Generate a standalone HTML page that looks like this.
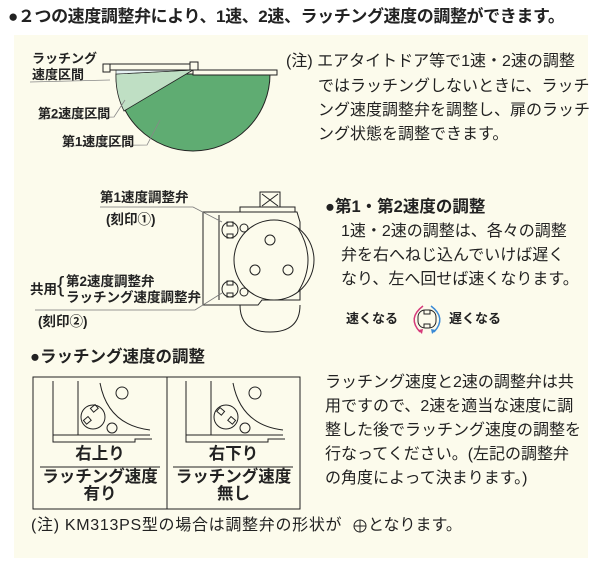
<!DOCTYPE html>
<html><head><meta charset="utf-8"><style>
body{margin:0;width:600px;height:569px;background:#fff;position:relative;overflow:hidden;font-family:"Liberation Sans","Noto Sans CJK JP",sans-serif;color:#222}
.t{position:absolute;white-space:nowrap;line-height:1}
.n{font-size:16px}
</style></head><body>
<div style="position:absolute;left:14px;top:35px;width:574px;height:523px;background:#fcfbec"></div>
<div class="t" style="left:8px;top:8px;font-size:17px;font-weight:bold;letter-spacing:-0.4px">●２つの速度調整弁により、1速、2速、ラッチング速度の調整ができます。</div>

<svg style="position:absolute;left:0;top:0" width="600" height="569" viewBox="0 0 600 569" fill="none" stroke="#222" stroke-width="1">
 <path d="M116 74 A77 77 0 0 0 270 74 Z" fill="#5fac72"/>
 <path d="M116 74 L193 70 L124 111 A77 77 0 0 1 116 74Z" fill="#bfdfc4" stroke-width="0.8"/>
 <path d="M116 74 L193 70 L116 70Z" fill="#e6f2f3" stroke-width="0.6"/>
 <rect x="110" y="64" width="88" height="6" fill="#fcfbec"/>
 <rect x="103" y="64" width="7" height="8" fill="#fcfbec"/>
 <rect x="190" y="62" width="8" height="8" fill="#fcfbec"/>
 <rect x="193" y="70" width="84" height="5" fill="#fcfbec"/>
 <path d="M110 80 L30 82 M125 100 L114 117 L38 119 M160 120 L147 145 L62 146" stroke="#888" stroke-width="0.8"/>
 <g stroke-width="1">
 <rect x="260" y="192" width="20" height="15" fill="#fcfbec"/>
 <path d="M262 194 L278 206 M278 194 L262 206"/>
 <rect x="240" y="207" width="55" height="6" fill="#fcfbec"/>
 <path d="M240 305 Q240 332 270 332 Q300 332 300 305" fill="#fcfbec"/>
 <path d="M203 212 H297 L300 222 V300 H262 L258 305 H203 Z" fill="#fcfbec"/>
 <path d="M219 215 V300"/>
 <circle cx="274" cy="260" r="40" fill="#fcfbec"/>
 <path d="M298 228 Q318 260 298 292"/>
 <circle cx="270" cy="240" r="5"/><circle cx="255" cy="270" r="5"/><circle cx="288" cy="270" r="5"/>
 <circle cx="230" cy="230" r="8" fill="#fcfbec"/><rect x="227" y="222" width="6" height="4"/><rect x="227" y="234" width="6" height="4"/>
 <circle cx="230" cy="289" r="8" fill="#fcfbec"/><rect x="227" y="281" width="6" height="4"/><rect x="227" y="293" width="6" height="4"/>
 <circle cx="244" cy="228" r="4"/><circle cx="244" cy="292" r="4"/>
 </g>
 <path d="M100 207 H193 L222 222" stroke="#777" stroke-width="0.8"/>
 <path d="M35 310 H195 L222 293" stroke="#777" stroke-width="0.8"/>
 <rect x="418" y="310" width="18" height="18" rx="7"/>
 <path d="M424 310 v4 h6 v-4 M424 328 v-4 h6 v4" />
 <path d="M423 306 Q407 318 420 332" stroke="#d63a7a" stroke-width="1.5"/>
 <path d="M431 306 Q447 318 434 332" stroke="#3a8ad6" stroke-width="1.5"/>
 <path d="M418 330 l4 4 l1 -5z" fill="#d63a7a" stroke="none"/>
 <path d="M436 330 l-4 4 l-1 -5z" fill="#3a8ad6" stroke="none"/>
 <rect x="33" y="377" width="267" height="132"/>
 <path d="M167 377 V509"/>
 <g>
  <path d="M53 381 V442 H135 V439 H152 M53 435 H150 M78 381 V435 M100 383 Q108 425 150 430"/>
  <circle cx="122" cy="393" r="6"/>
  <circle cx="93" cy="417" r="12" fill="#fcfbec"/>
  <rect x="91" y="406" width="6" height="5" transform="rotate(-40 94 408)"/><rect x="84" y="418" width="6" height="5" transform="rotate(-40 87 420)"/>
  <circle cx="112" cy="428" r="5"/>
  <path d="M40 467 H160"/>
 </g>
 <g transform="translate(133 0)">
  <path d="M53 381 V442 H135 V439 H152 M53 435 H150 M78 381 V435 M100 383 Q108 425 150 430"/>
  <circle cx="122" cy="393" r="6"/>
  <circle cx="93" cy="417" r="12" fill="#fcfbec"/>
  <rect x="85" y="409" width="6" height="5" transform="rotate(40 88 411)"/><rect x="96" y="418" width="6" height="5" transform="rotate(40 99 420)"/>
  <circle cx="112" cy="428" r="5"/>
  <path d="M40 467 H160"/>
 </g>
 <circle cx="360" cy="526" r="6"/><path d="M354 526 H366 M360 520 V532"/>
</svg>

<div class="t" style="left:32px;top:52px;font-size:13px;font-weight:bold">ラッチング</div>
<div class="t" style="left:32px;top:68px;font-size:13px;font-weight:bold">速度区間</div>
<div class="t" style="left:38px;top:107px;font-size:13px;font-weight:bold">第2速度区間</div>
<div class="t" style="left:62px;top:135px;font-size:13px;font-weight:bold">第1速度区間</div>

<div class="t n" style="left:286px;top:54px">(注) エアタイトドア等で1速・2速の調整</div>
<div class="t n" style="left:318px;top:79px">ではラッチングしないときに、ラッチ</div>
<div class="t n" style="left:318px;top:103px">ング速度調整弁を調整し、扉のラッチ</div>
<div class="t n" style="left:318px;top:127px">ング状態を調整できます。</div>

<div class="t" style="left:100px;top:191px;font-size:13.5px;font-weight:bold">第1速度調整弁</div>
<div class="t" style="left:106px;top:213px;font-size:13.5px;font-weight:bold">(刻印①)</div>
<div class="t" style="left:30px;top:283px;font-size:13.5px;font-weight:bold">共用</div>
<div class="t" style="left:57px;top:274px;font-size:22px;font-weight:100">{</div>
<div class="t" style="left:66px;top:275px;font-size:13.5px;font-weight:bold">第2速度調整弁</div>
<div class="t" style="left:66px;top:291px;font-size:13.5px;font-weight:bold">ラッチング速度調整弁</div>
<div class="t" style="left:38px;top:315px;font-size:13.5px;font-weight:bold">(刻印②)</div>

<div class="t" style="left:325px;top:199px;font-size:16.5px;font-weight:bold">●第1・第2速度の調整</div>
<div class="t n" style="left:341px;top:224px">1速・2速の調整は、各々の調整</div>
<div class="t n" style="left:341px;top:248px">弁を右へねじ込んでいけば遅く</div>
<div class="t n" style="left:341px;top:272px">なり、左へ回せば速くなります。</div>
<div class="t" style="left:346px;top:312px;font-size:13px;font-weight:bold">速くなる</div>
<div class="t" style="left:449px;top:312px;font-size:13px;font-weight:bold">遅くなる</div>

<div class="t" style="left:30px;top:349px;font-size:16.5px;font-weight:bold">●ラッチング速度の調整</div>
<div class="t" style="left:33px;top:446px;width:134px;text-align:center;font-size:16.5px;font-weight:bold">右上り</div>
<div class="t" style="left:33px;top:469px;width:134px;text-align:center;font-size:16.5px;font-weight:bold;line-height:17px">ラッチング速度<br>有り</div>
<div class="t" style="left:167px;top:446px;width:133px;text-align:center;font-size:16.5px;font-weight:bold">右下り</div>
<div class="t" style="left:167px;top:469px;width:133px;text-align:center;font-size:16.5px;font-weight:bold;line-height:17px">ラッチング速度<br>無し</div>

<div class="t n" style="left:325px;top:375px">ラッチング速度と2速の調整弁は共</div>
<div class="t n" style="left:325px;top:399px">用ですので、2速を適当な速度に調</div>
<div class="t n" style="left:325px;top:423px">整した後でラッチング速度の調整を</div>
<div class="t n" style="left:325px;top:447px">行なってください。(左記の調整弁</div>
<div class="t n" style="left:325px;top:471px">の角度によって決まります。)</div>

<div class="t n" style="left:31px;top:518px;letter-spacing:0.7px">(注) KM313PS型の場合は調整弁の形状が</div>
<div class="t n" style="left:368px;top:518px">となります。</div>
</body></html>
